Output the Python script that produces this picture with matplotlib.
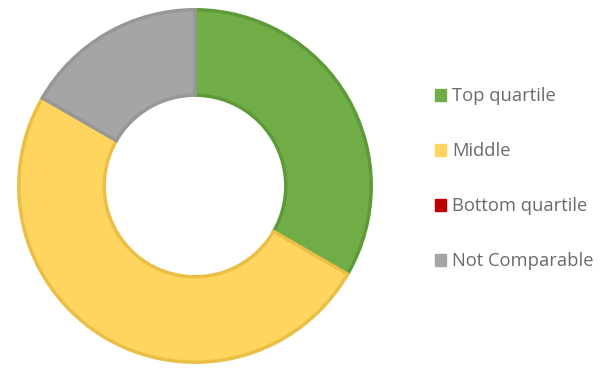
import matplotlib
matplotlib.use("Agg")
import matplotlib.pyplot as plt
from matplotlib.patches import Patch

categories = ["Top quartile", "Middle", "Bottom quartile", "Not Comparable"]
values = [6, 9, 0, 3]
fill_colors = ["#70AD47", "#FFD560", "#C00000", "#A5A5A5"]
edge_colors = ["#5E9A38", "#E9BF45", "#A00000", "#979797"]

W, H = 611, 372
fig = plt.figure(figsize=(W / 100, H / 100), dpi=100)
cx, cy, R = 195, 186, 178
ax = fig.add_axes([(cx - R) / W, (H - cy - R) / H, 2 * R / W, 2 * R / H])

wedges, _ = ax.pie(values, colors=fill_colors, startangle=90, counterclock=False,
                   radius=0.99, wedgeprops=dict(width=0.48, linewidth=2.5))
for w, ec, v in zip(wedges, edge_colors, values):
    w.set_edgecolor(ec)
    if v == 0:
        w.set_linewidth(0)
ax.set_xlim(-1, 1)
ax.set_ylim(-1, 1)
ax.set_aspect("equal")
ax.axis("off")

handles = [Patch(facecolor=c, edgecolor=c) for c in fill_colors]
leg = fig.legend(handles, categories, loc="upper left",
                 bbox_to_anchor=(428 / W, 1 - 80 / H), frameon=False,
                 prop=dict(family="Open Sans", size=13.2),
                 labelcolor="#6a6a6a", handlelength=0.6, handleheight=0.6,
                 handletextpad=0.3, labelspacing=2.02, borderaxespad=0)

fig.savefig("out.png", dpi=100, facecolor="white")
